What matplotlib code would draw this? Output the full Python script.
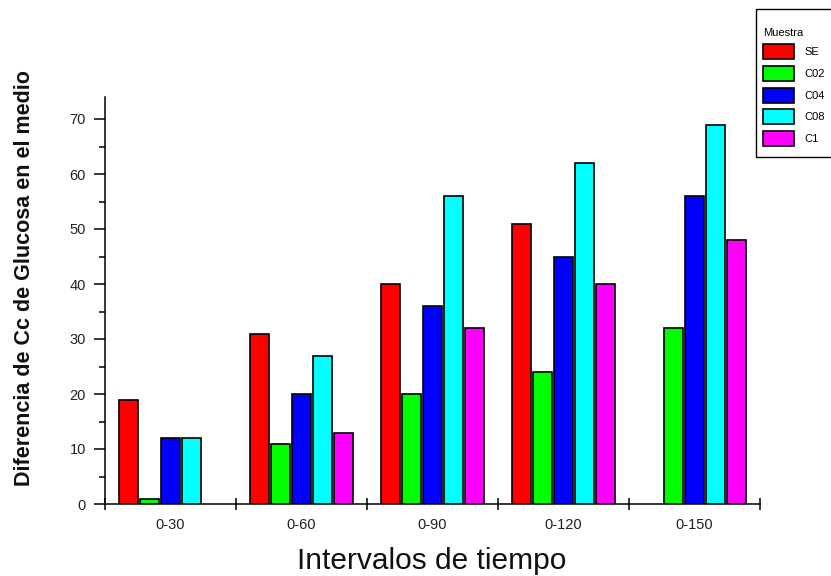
import matplotlib
matplotlib.use("Agg")
import matplotlib.pyplot as plt
import numpy as np
from matplotlib.ticker import MultipleLocator, FixedLocator
from matplotlib.patches import Rectangle

plt.rcParams['font.family'] = ['Liberation Sans', 'DejaVu Sans']

categories = ["0-30", "0-60", "0-90", "0-120", "0-150"]
series_names = ["SE", "C02", "C04", "C08", "C1"]
SE = [19, 31, 40, 51, 0]
C02 = [1, 11, 20, 24, 32]
C04 = [12, 20, 36, 45, 56]
C08 = [12, 27, 56, 62, 69]
C1 = [0, 13, 32, 40, 48]
series_values = [SE, C02, C04, C08, C1]
colors = ["#ff0000", "#00ff00", "#0000ff", "#00ffff", "#ff00ff"]

W, H = 831, 576
fig = plt.figure(figsize=(W/100, H/100), dpi=100)
ax = fig.add_axes([105/W, 1-504/H, 655/W, 407/H])

x = np.arange(len(categories))
step = 0.16
width = 0.148
for i, (name, vals, col) in enumerate(zip(series_names, series_values, colors)):
    offs = (i - 2) * step
    v = np.array(vals, dtype=float)
    mask = v > 0
    ax.bar(x[mask] + offs, v[mask], width=width, color=col, edgecolor='black',
           linewidth=1.2, label=name, zorder=3)

ax.set_xlim(-0.5, len(categories) - 0.5)
ax.set_ylim(0, 74)

ax.spines['top'].set_visible(False)
ax.spines['right'].set_visible(False)
ax.spines['left'].set_linewidth(1.1)
ax.spines['bottom'].set_linewidth(1.1)

ax.set_xticks(x)
ax.set_xticklabels(categories)
ax.xaxis.set_minor_locator(FixedLocator(np.arange(-0.5, len(categories), 1.0)))
ax.tick_params(axis='x', which='major', length=0, pad=10, labelsize=10.5, colors='#222222')
ax.tick_params(axis='x', which='minor', direction='inout', length=8, width=1.1)

ax.yaxis.set_major_locator(MultipleLocator(10))
ax.yaxis.set_minor_locator(MultipleLocator(5))
ax.tick_params(axis='y', which='major', direction='out', length=8, width=1.1,
               pad=5.8, labelsize=10.5, labelcolor='#222222')
ax.tick_params(axis='y', which='minor', direction='out', length=4.3, width=1.1)

ax.set_xlabel("Intervalos de tiempo", fontsize=21.5, color='#111111')
ax.xaxis.set_label_coords(0.499, (504-547)/407)
ax.set_ylabel("Diferencia de Cc de Glucosa en el medio", fontsize=15.5, fontweight='bold',
              color='#111111')
ax.yaxis.set_label_coords((35.5-105)/655, (504-278.5)/407)

# legend frame (box runs past the right edge of the figure as in the reference)
fig.patches.append(Rectangle((756/W, 1-157/H), 110/W, 148/H, transform=fig.transFigure,
                             fill=False, edgecolor='black', linewidth=1.0))
leg = ax.legend(loc='upper left', bbox_to_anchor=(763/W, 1-27.5/H),
                bbox_transform=fig.transFigure, title="Muestra",
                fontsize=8, title_fontsize=8, frameon=False,
                handlelength=2.79, handleheight=1.70,
                labelspacing=0.6, handletextpad=0.95, borderpad=0,
                borderaxespad=0, alignment='left')

fig.savefig("out.png", dpi=100)
